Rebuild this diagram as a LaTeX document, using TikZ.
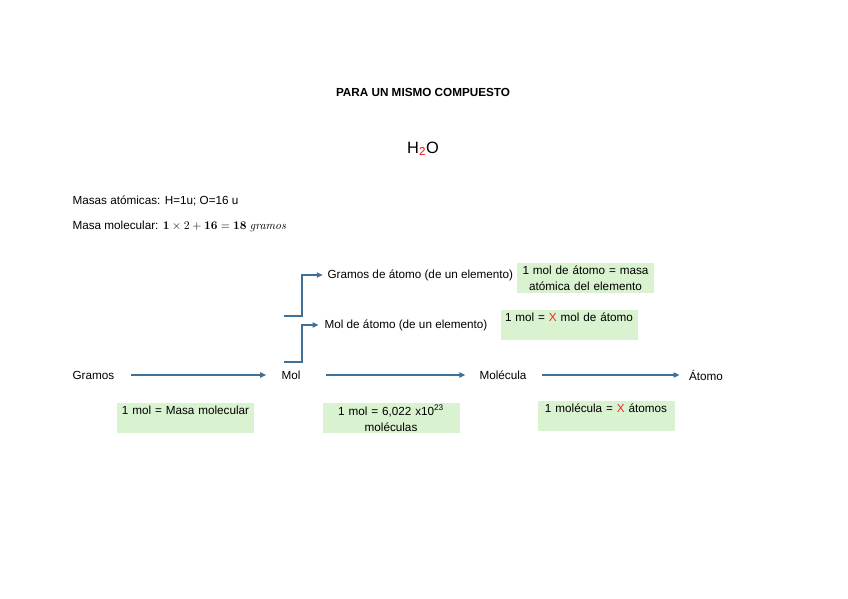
\documentclass[tikz,border=0pt]{standalone}
\usepackage[no-math]{fontspec}
\setmainfont{Liberation Sans}
\usepackage{tikz}
\usetikzlibrary{arrows.meta,positioning,calc}
\definecolor{bleuFleche}{RGB}{62,112,152}
\definecolor{vertPale}{RGB}{217,242,208}
\definecolor{rougeX}{RGB}{240,40,40}

\begin{document}
\begin{tikzpicture}[x=0.03cm,y=-0.03cm,font=\fontsize{10}{13.6}\selectfont,
  etiq/.style={inner sep=2pt},
  boite/.style={rectangle,fill=vertPale,minimum width=4.11cm,minimum height=0.9cm,
                text width=4.0cm,align=center,inner sep=1pt,anchor=north},
  arr/.style={-{Triangle[length=5pt,width=4.5pt]},bleuFleche,line width=0.9pt}]

  \useasboundingbox (0,0) rectangle (848,599);

  % titre et formule
  \node[etiq,font=\bfseries\fontsize{10}{12}\selectfont] (titre) at (423,92)
    {PARA UN MISMO COMPUESTO};
  \node[etiq,font=\fontsize{14}{16}\selectfont] (formule) at (423,149)
    {H\textsubscript{\color{red}2}O};
  \node[etiq,anchor=west] (masas) at (70,201) {Masas atómicas: H=1u; O=16 u};
  \node[etiq,anchor=west] (molec) at (70,226)
    {Masa molecular: $\mathbf{1}\times 2+\mathbf{16}=\mathbf{18}\ \mathit{gramos}$};

  % chaine principale
  \node[etiq,anchor=west] (gramos) at (70,375) {Gramos};
  \node[etiq] (mol) at (291,375) {Mol};
  \node[etiq] (molecula) at (503,375) {Molécula};
  \node[etiq] (atomo) at (706,375) {Átomo};

  \draw[arr,shorten <=12pt,shorten >=11pt] (gramos.east)--(mol.west);
  \draw[arr,shorten <=20pt,shorten >=10pt] (mol.east)--(molecula.west);
  \draw[arr,shorten <=11pt,shorten >=6pt] (molecula.east)--(atomo.west);

  % ramas
  \node[etiq,anchor=west] (gatomo) at (325,275) {Gramos de átomo (de un elemento)};
  \node[etiq,anchor=west] (matomo) at (322,325) {Mol de átomo (de un elemento)};
  \coordinate (br1) at (284,316);
  \coordinate (br2) at (284,362);
  \draw[arr,shorten >=2pt] (br1)--++(18,0) |- (gatomo.west);
  \draw[arr,shorten >=3pt] (br2)--++(18,0) |- (matomo.west);

  % equivalencias
  \node[boite] (eq1) at (185.5,403) {1 mol = Masa molecular\\\mbox{}};
  \node[boite] (eq2) at (391,403) {1 mol = 6,022 x10\textsuperscript{23}\\moléculas};
  \node[boite] (eq3) at (606,401)
    {1 molécula = {\color{rougeX}X} átomos\\\mbox{}};
  \node[boite] (eq4) at (585.5,263) {1 mol de átomo = masa\\atómica del elemento};
  \node[boite] (eq5) at (569,310) {1 mol = {\color{rougeX}X} mol de átomo\\\mbox{}};
\end{tikzpicture}
\end{document}
